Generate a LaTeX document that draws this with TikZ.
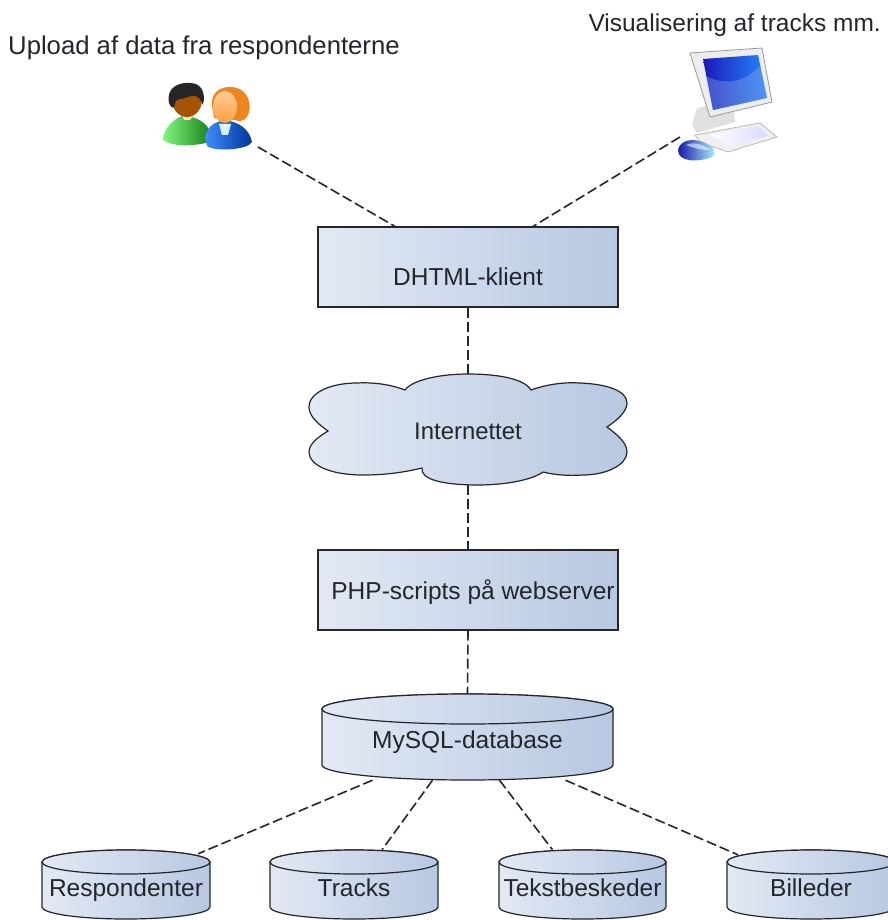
\documentclass[tikz,border=0pt]{standalone}
\usepackage{fontspec}
\setmainfont{Liberation Sans}
\usetikzlibrary{calc}
\definecolor{gradL}{HTML}{E3E9F4}
\definecolor{gradR}{HTML}{B7C8E2}
\definecolor{ink}{HTML}{23262B}
\tikzset{
  grad/.style={left color=gradL,right color=gradR,draw=ink,line width=1.2pt},
  boxnode/.style={grad,rectangle,minimum width=300pt,minimum height=80pt,inner sep=0pt},
  ghost/.style={rectangle,inner sep=0pt,text=ink},
  lbl/.style={inner sep=0pt,text=ink,text height=18pt,text depth=5pt,font=\fontsize{24.5}{26}\selectfont},
  link/.style={draw=ink,line width=1.6pt,dash pattern=on 10pt off 4pt},
}
% \dbcyl{name}{left}{top}{width}{height}{ry}{textcy}{text}
\newcommand{\dbcyl}[8]{%
  \pgfmathsetmacro{\rx}{#4/2}\pgfmathsetmacro{\cx}{#2+#4/2}%
  \pgfmathsetmacro{\ey}{#3+#6}\pgfmathsetmacro{\by}{#3+#5-#6}%
  \path[grad] (#2,\ey) -- (#2,\by) arc[start angle=180,end angle=0,x radius=\rx,y radius=#6]
     -- (#2+#4,\ey) arc[start angle=0,end angle=-180,x radius=\rx,y radius=#6] -- cycle;
  \path[grad] (\cx,\ey) ellipse[x radius=\rx,y radius=#6];
  \node[ghost,minimum width=#4 pt,minimum height=#5 pt] (#1) at (\cx,#3+#5/2) {};
  \node[lbl] (#1-text) at (\cx,#7) {#8};
}
\begin{document}
\begin{tikzpicture}[x=1pt,y=-1pt]
\useasboundingbox (0,0) rectangle (887,920);
\fill[white] (0,0) rectangle (887,920);

% labels
\node[lbl,anchor=west,font=\fontsize{25.7}{27}\selectfont] (uploadtxt) at (8,48.5) {Upload af data fra respondenterne};
\node[lbl,anchor=east] (vistxt) at (881,25.5) {Visualisering af tracks mm.};

% people icon
\node[ghost,minimum width=92pt,minimum height=72pt] (people) at (207,112) {};
\path[left color=green!45!black!10!green!50!white,right color=green!45!black!90!white]
  (163,140) .. controls (164,128) and (172,120) .. (184,115)
  .. controls (195,117) and (208,122) .. (210,133) -- (206,143)
  .. controls (192,146) and (172,147) .. (163,140) -- cycle;
\path[fill=white!75!orange] (182,115) -- (194,115) -- (190,120) -- (184,120) -- cycle;
\path[fill=orange!65!black] (187,100) ellipse[x radius=15,y radius=17];
\path[fill=black!85] (169,103) .. controls (166,88) and (178,82) .. (190,83)
  .. controls (201,83) and (206,92) .. (203,105)
  .. controls (200,96) and (194,94) .. (188,97)
  .. controls (182,100) and (176,97) .. (175,104)
  .. controls (174,110) and (171,108) .. (169,103) -- cycle;
\path[left color=blue!60!cyan!75,right color=blue!65!cyan!60!black]
  (205,137) .. controls (208,125) and (215,122) .. (225,120)
  .. controls (238,122) and (249,128) .. (252,142)
  .. controls (248,150) and (214,152) .. (207,146) -- cycle;
\path[fill=orange!70!brown!95] (212,106) .. controls (210,92) and (222,86) .. (232,87)
  .. controls (245,88) and (252,100) .. (249,112)
  .. controls (247,120) and (241,123) .. (235,120)
  -- (214,118) -- cycle;
\path[top color=orange!40!white,bottom color=orange!75] (225,107) ellipse[x radius=12,y radius=16];
\path[fill=cyan!15!white] (219,124) -- (231,124) -- (228,135) -- (222,135) -- cycle;

% computer icon
\node[ghost,minimum width=110pt,minimum height=120pt] (computer) at (730,105) {};
\path[fill=black!12] (697,133) -- (692,125) -- (697,108) -- (733,100) -- (735,122) -- cycle;
\path[fill=black!6,draw=black!30,line width=.7pt] (695,135) -- (760,123) -- (777,137) -- (728,152) -- (700,142) -- cycle;
\path[left color=white,right color=blue!15!white] (710,135) -- (758,126) -- (768,136) -- (730,146) -- cycle;
\path[fill=black!7,draw=black!40,line width=.8pt] (690,53) -- (762,48) -- (772,102) -- (710,117) -- cycle;
\path[left color=blue!70!black!90,right color=blue!55!cyan!85] (703,59) -- (758,55) -- (767,98) -- (713,110) -- cycle;
\path[fill=cyan!45!blue!40,opacity=.35] (706,76) .. controls (725,86) and (745,82) .. (760,66) -- (767,98) -- (713,110) -- cycle;
\path[left color=blue!65!black!90,right color=cyan!30!white] (678,150) .. controls (680,140) and (692,138) .. (703,142)
  .. controls (714,146) and (718,152) .. (712,157) .. controls (700,162) and (678,163) .. (678,150) -- cycle;
\path[fill=white,opacity=.55] (686,145) .. controls (694,141) and (704,145) .. (710,150) .. controls (700,150) and (694,148) .. (686,145) -- cycle;

% boxes
\node[boxnode,text=ink] (dhtml) at (468,267) {};
\node[lbl] (dhtmltxt) at (468,278.5) {DHTML-klient};

% cloud
\path[grad] (468,374)
  .. controls (495,374) and (524,378) .. (531,390)
  .. controls (548,384) and (565,382) .. (580,383)
  .. controls (605,384) and (627,390) .. (627,403)
  .. controls (627,412) and (616,421) .. (607,427)
  .. controls (616,434) and (627,442) .. (627,452)
  .. controls (627,465) and (606,475) .. (583,475)
  .. controls (568,476) and (555,475) .. (543,472)
  .. controls (532,480) and (505,485) .. (478,485)
  .. controls (445,485) and (420,480) .. (422,468)
  .. controls (402,473) and (382,475) .. (363,475)
  .. controls (330,475) and (309,465) .. (309,452)
  .. controls (309,443) and (320,436) .. (328,431)
  .. controls (318,424) and (309,416) .. (309,407)
  .. controls (309,392) and (332,383) .. (357,383)
  .. controls (375,382) and (392,385) .. (405,390)
  .. controls (412,380) and (440,374) .. (468,374) -- cycle;
\node[ghost,minimum width=318pt,minimum height=111pt] (net) at (468,429.5) {};
\node[lbl,font=\fontsize{23.9}{25}\selectfont] (nettxt) at (468,432.5) {Internettet};

\node[boxnode] (php) at (468,590) {};
\node[lbl] (phptxt) at (473,592.5) {PHP-scripts på webserver};

% databases
\dbcyl{mysql}{322}{694}{291}{86}{15}{741.5}{MySQL-database}
\dbcyl{resp}{42}{850}{168}{69}{12}{889.5}{Respondenter}
\dbcyl{tracks}{270}{850}{168}{69}{12}{889.5}{Tracks}
\dbcyl{tekst}{499}{850}{167}{69}{12}{889.5}{Tekstbeskeder}
\dbcyl{bill}{727}{850}{168}{69}{12}{889.5}{Billeder}

% connectors
\draw[link] ([xshift=51pt,yshift=-35pt]people.center) -- ([xshift=-73pt]dhtml.north);
\draw[link] ([xshift=-50pt,yshift=-32pt]computer.center) -- ([xshift=65pt]dhtml.north);
\draw[link] (dhtml.south) -- (net.north);
\draw[link] (net.south) -- (php.north);
\draw[link] (php.south) -- (mysql.north);
\draw[link] ([xshift=-95pt]mysql.south) -- ([xshift=72pt,yshift=-4pt]resp.north);
\draw[link] ([xshift=-35pt]mysql.south) -- ([xshift=28pt]tracks.north);
\draw[link] ([xshift=32pt]mysql.south) -- ([xshift=-30pt]tekst.north);
\draw[link] ([xshift=98pt]mysql.south) -- ([xshift=-73pt,yshift=-5pt]bill.north);
\end{tikzpicture}
\end{document}
